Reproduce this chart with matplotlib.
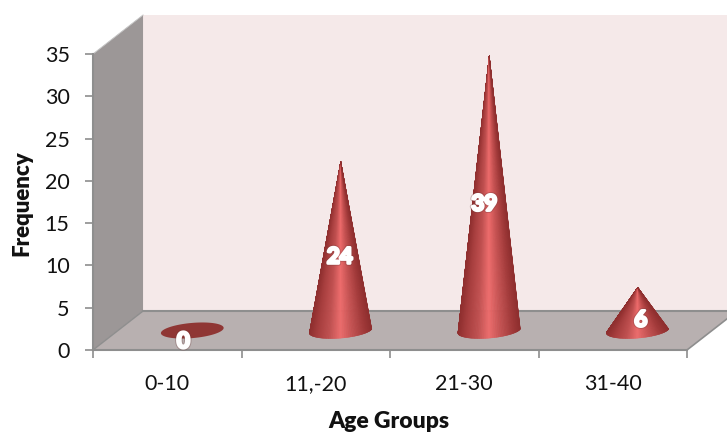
import numpy as np
import matplotlib
matplotlib.use('Agg')
import matplotlib.pyplot as plt
import matplotlib.patheffects as pe
from matplotlib.colors import LinearSegmentedColormap
from matplotlib.collections import PolyCollection
from matplotlib.patches import Polygon

plt.rcParams['font.family'] = ['Lato', 'DejaVu Sans']

# Data
age_groups = ['0-10', '11,-20', '21-30', '31-40']
data_labels = ['0', '24', '39', '6']
cone_heights = [0, 20.0, 32.5, 5.1]   # heights as they read against the axis
y_ticks = [0, 5, 10, 15, 20, 25, 30, 35]

# 3D look of the box, in data units
depth_x = 0.337
depth_y = 4.61
x_max = 4
y_max = 35

fig = plt.figure(figsize=(7.27, 4.33), dpi=100, facecolor='white')
ax = fig.add_axes([93 / 727, 1 - 350 / 433, 594 / 727, 296 / 433])
ax.set_xlim(0, x_max)
ax.set_ylim(0, y_max)

# Walls and floor
grid_grey = '#8e8e8e'
ax.add_patch(Polygon([(depth_x, depth_y), (x_max + depth_x, depth_y),
                      (x_max + depth_x, y_max + depth_y), (depth_x, y_max + depth_y)],
                     fc='#f5e9e9', ec='none', clip_on=False, zorder=1))
ax.add_patch(Polygon([(0, 0), (depth_x, depth_y), (depth_x, y_max + depth_y), (0, y_max)],
                     fc='#9c9797', ec='none', clip_on=False, zorder=2))
ax.add_patch(Polygon([(0, 0), (x_max, 0), (x_max + depth_x, depth_y), (depth_x, depth_y)],
                     fc='#b8b0b0', ec='none', clip_on=False, zorder=2))
ax.plot([depth_x, x_max + depth_x], [depth_y, depth_y], color=grid_grey, lw=1.5, clip_on=False, zorder=3)
ax.plot([x_max, x_max + depth_x], [0, depth_y], color=grid_grey, lw=1.2, clip_on=False, zorder=3)
ax.plot([0, depth_x], [0, depth_y], color=grid_grey, lw=1.0, clip_on=False, zorder=3)
ax.plot([0, depth_x], [y_max, y_max + depth_y], color='#c4c4c4', lw=0.7, clip_on=False, zorder=3)

# Cones
cone_cmap = LinearSegmentedColormap.from_list(
    'cone', [(0.0, '#8f2f2f'), (0.14, '#a83e3e'), (0.32, '#c04f4f'), (0.5, '#ee6b6b'),
             (0.68, '#c65252'), (0.88, '#a23a3a'), (1.0, '#8f2f2f')])
base_a = 0.2     # half width of the base ellipse
base_b = 0.068   # shear from the depth direction
base_c = 0.95    # half height of the base ellipse
xs = np.arange(len(age_groups)) + 0.5 + depth_x / 2
base_y = depth_y / 2

for x0, h in zip(xs, cone_heights):
    if h == 0:
        t = np.linspace(0, 2 * np.pi, 241)
        ex = x0 + base_a * np.cos(t) + base_b * np.sin(t)
        ey = base_y + base_c * np.sin(t)
        ax.add_patch(Polygon(np.column_stack([ex, ey]), fc='#8f3634', ec='none',
                             clip_on=False, zorder=5))
        continue
    # thin facets from the apex to the visible (front) half of the base
    ft = np.linspace(np.pi * 0.94, np.pi * 2.06, 161)
    fx = x0 + base_a * np.cos(ft) + base_b * np.sin(ft)
    fy = base_y + base_c * np.sin(ft)
    facets = [[(x0, base_y + h), (fx[j], fy[j]), (fx[j + 1], fy[j + 1])] for j in range(len(ft) - 1)]
    # shade by how far across the projected width each facet sits
    shade = ((fx[:-1] + fx[1:]) / 2 - fx.min()) / (fx.max() - fx.min())
    colors = cone_cmap(shade)
    ax.add_collection(PolyCollection(facets, facecolors=colors, edgecolors=colors, linewidths=0.3,
                                     clip_on=False, zorder=5))

# Data labels
label_shift = [-9, -1, -5, 3]
label_effects = [pe.Stroke(linewidth=3.4, foreground='#6e3a3a', alpha=0.3),
                 pe.Stroke(linewidth=2.0, foreground='white'),
                 pe.Normal()]
for x0, h, text, dx in zip(xs, cone_heights, data_labels, label_shift):
    ax.annotate(text, (x0, base_y + h / 2), xytext=(dx, -11), textcoords='offset pixels',
                ha='center', va='center', color='white', fontsize=16, fontweight='bold',
                annotation_clip=False, zorder=8, path_effects=label_effects)

# Axes
for name in ['top', 'right']:
    ax.spines[name].set_visible(False)
for name in ['left', 'bottom']:
    ax.spines[name].set_color(grid_grey)
    ax.spines[name].set_linewidth(1.5)
    ax.spines[name].set_zorder(4)
ax.patch.set_visible(False)
ax.set_yticks(y_ticks)
ax.set_yticklabels([str(v) for v in y_ticks])
ax.set_xticks(np.arange(x_max + 1))
ax.set_xticklabels([])
ax.set_xticks(np.arange(len(age_groups)) + 0.5, minor=True)
ax.set_xticklabels(age_groups, minor=True)
ax.tick_params(axis='y', which='major', length=5.8, width=1.2, color=grid_grey, pad=11,
               labelsize=15.5, labelcolor='#111111')
ax.tick_params(axis='x', which='major', length=5.8, width=1.2, color=grid_grey)
ax.tick_params(axis='x', which='minor', length=0, pad=17, labelsize=15.5, labelcolor='#111111')

fig.text(22 / 727, 1 - 203 / 433, 'Frequency', rotation=90, ha='center', va='center',
         fontsize=16, fontweight='heavy', color='#111111')
fig.text(389 / 727, 1 - 421 / 433, 'Age Groups', ha='center', va='center',
         fontsize=16.5, fontweight='heavy', color='#111111')

fig.savefig('out.png', dpi=100)
